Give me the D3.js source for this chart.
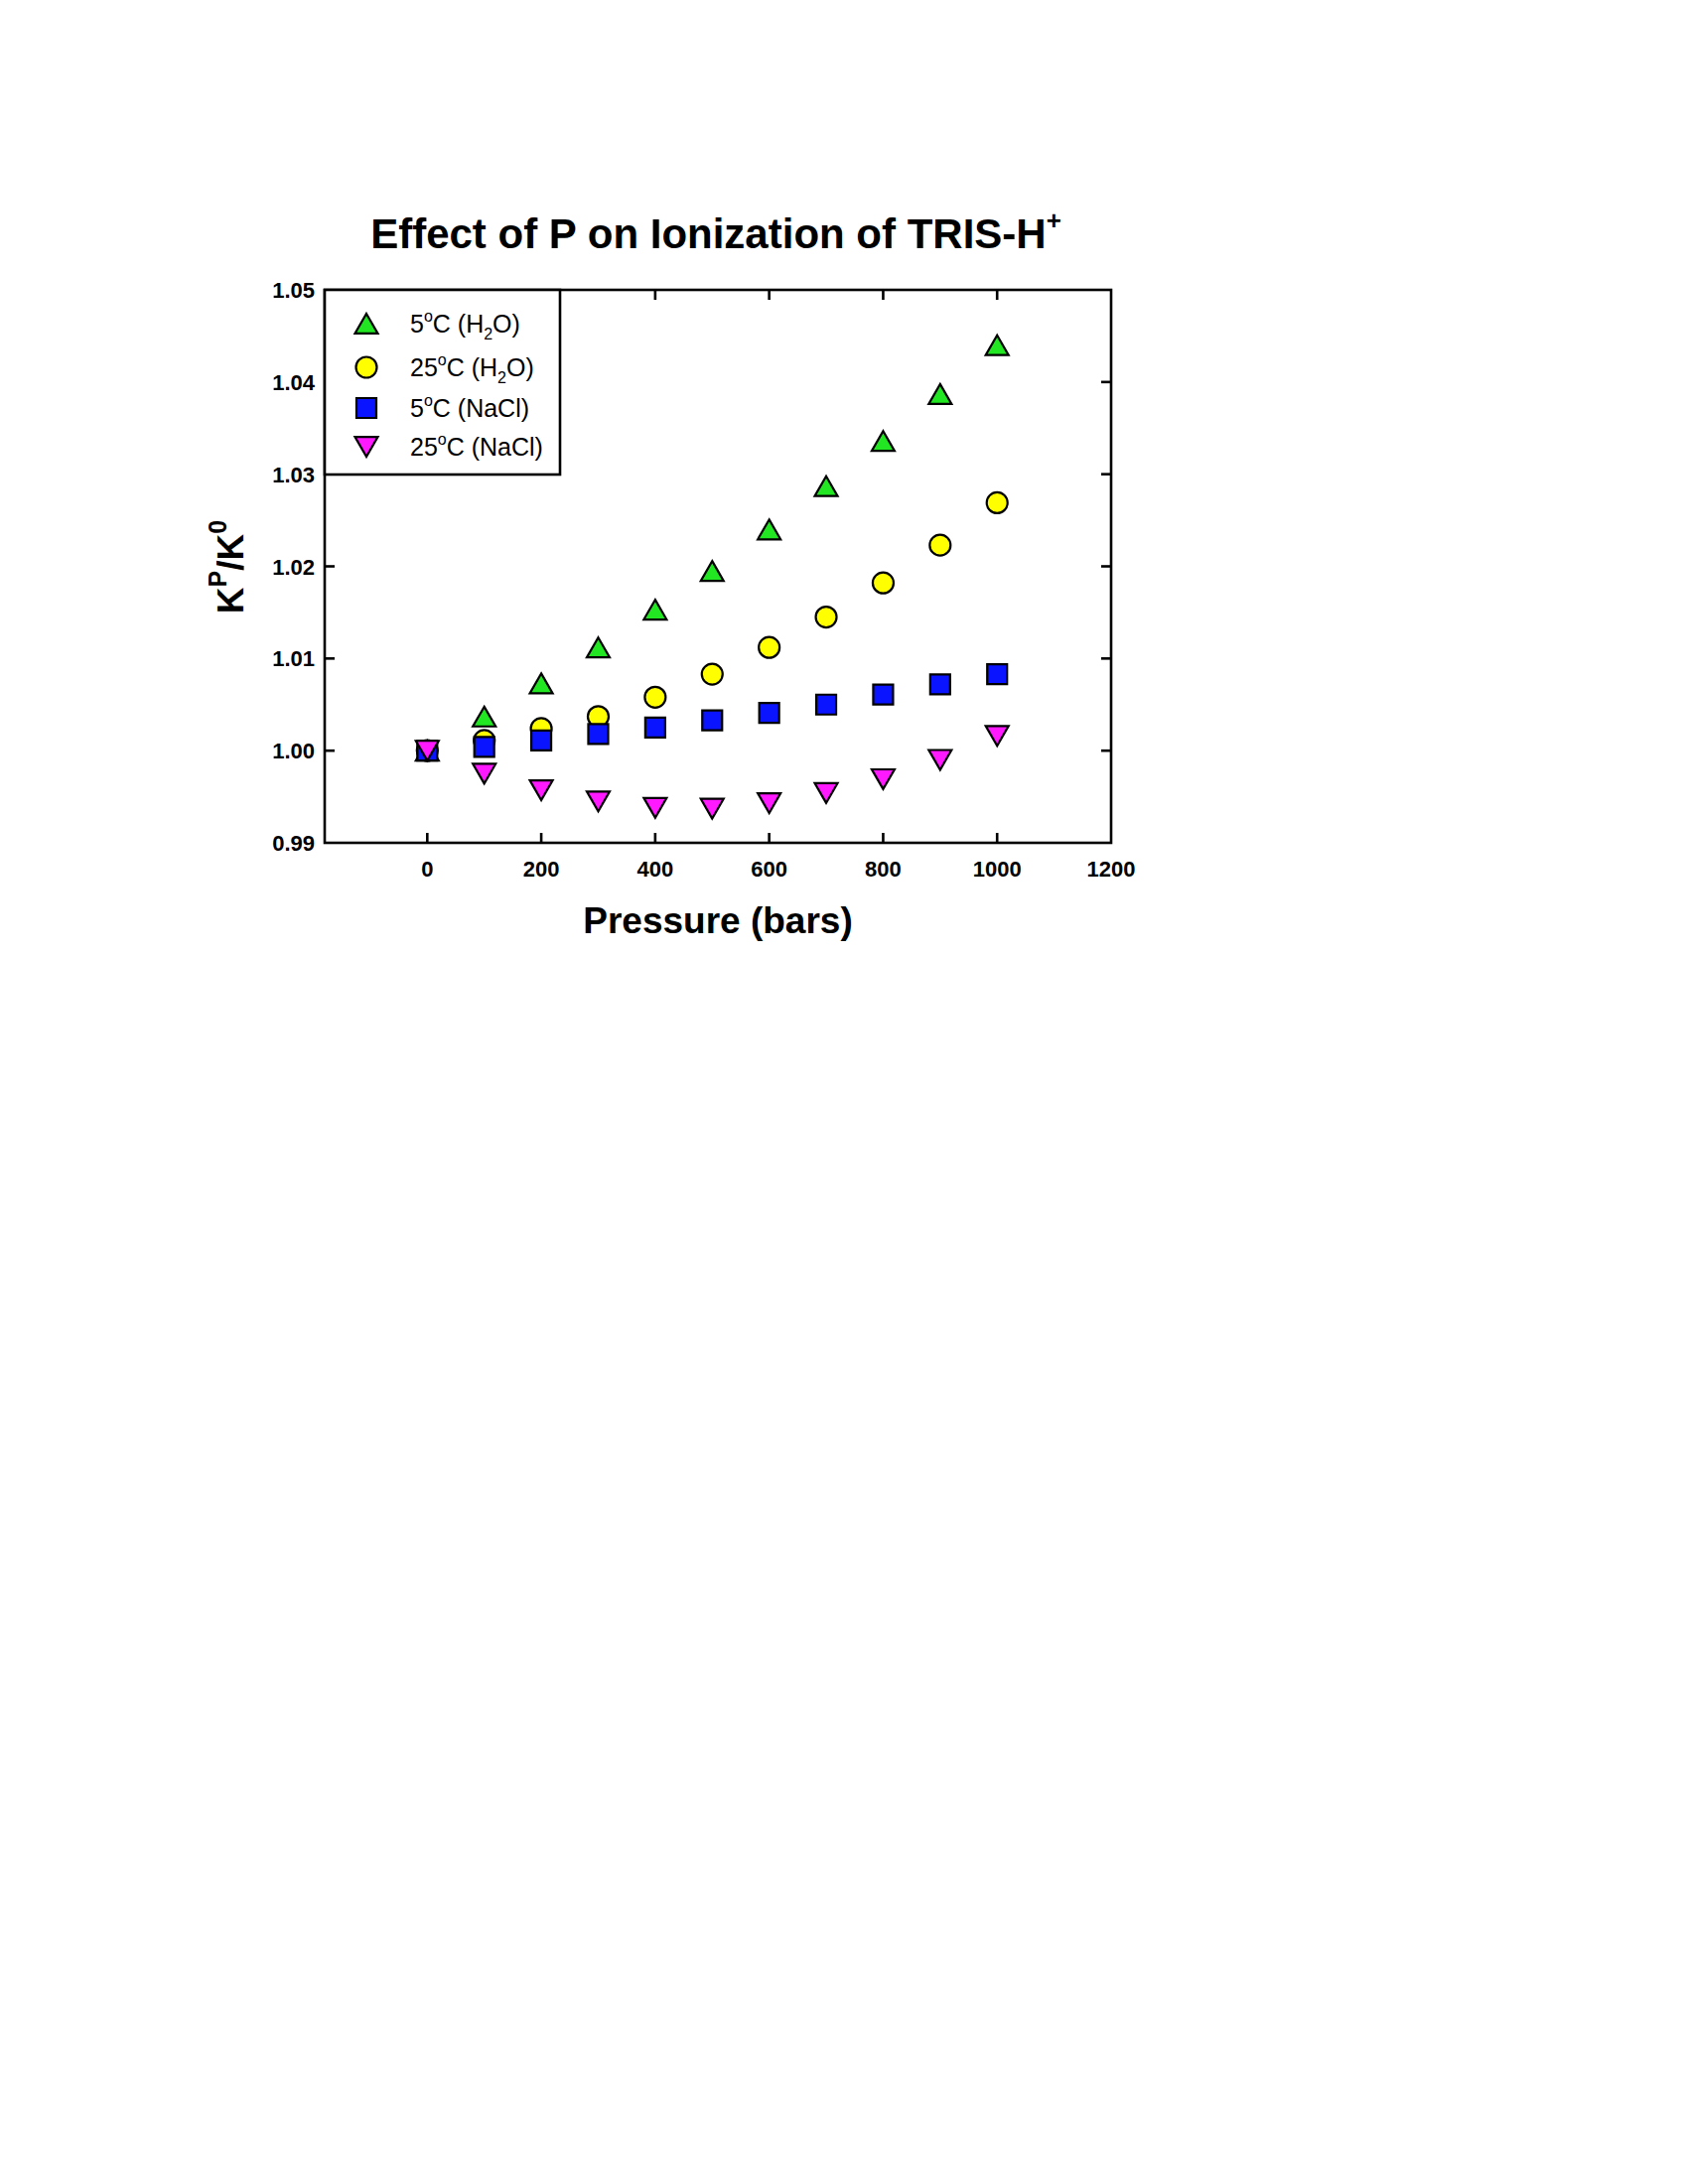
<!DOCTYPE html>
<html>
<head>
<meta charset="utf-8">
<script src="https://cdn.jsdelivr.net/npm/d3@7"></script>
<style>
  body { margin: 0; background: #fff; }
  text { font-family: "Liberation Sans", Arial, sans-serif; fill: #000; }
</style>
</head>
<body>
<div id="chart-area"></div>
<script>
// data
var pressure = [0, 100, 200, 300, 400, 500, 600, 700, 800, 900, 1000];
var h2o5 = [1.0000, 1.0037, 1.0073, 1.0112, 1.0153, 1.0195, 1.0240, 1.0287, 1.0336, 1.0387, 1.0440];
var h2o25 = [1.0000, 1.0011, 1.0024, 1.0037, 1.0058, 1.0083, 1.0112, 1.0145, 1.0182, 1.0223, 1.0269];
var nacl5 = [1.0000, 1.0004, 1.0011, 1.0018, 1.0025, 1.0033, 1.0041, 1.0050, 1.0061, 1.0072, 1.0083];
var nacl25 = [1.0000, 0.9975, 0.9957, 0.9945, 0.9938, 0.9937, 0.9943, 0.9954, 0.9969, 0.9990, 1.0016];
var xTicks = [0, 200, 400, 600, 800, 1000, 1200];
var yTicks = [0.99, 1.00, 1.01, 1.02, 1.03, 1.04, 1.05];

var series = [
  {temp: "5", solv: "H2O", values: h2o5, shape: "up", color: "#22e622"},
  {temp: "25", solv: "H2O", values: h2o25, shape: "circle", color: "#ffff00"},
  {temp: "5", solv: "NaCl", values: nacl5, shape: "square", color: "#0a14ff"},
  {temp: "25", solv: "NaCl", values: nacl25, shape: "down", color: "#ff19ff"}
];

var margin = {top: 292, left: 327};
var width = 1119 - 327;
var height = 849 - 292;

var svg = d3.select("#chart-area").append("svg")
  .attr("width", 1700)
  .attr("height", 2200)

var g = svg.append("g")
  .attr("transform", "translate(" + margin.left + ", " + margin.top + ")")

var x = d3.scaleLinear().domain([-180, 1200]).range([0, width])
var y = d3.scaleLinear().domain([0.99, 1.05]).range([height, 0])

// frame
g.append("rect")
  .attr("width", width).attr("height", height)
  .attr("fill", "none").attr("stroke", "#000").attr("stroke-width", 2.6)

// inward ticks on all four sides
var tickLen = 10;
var xt = xTicks.filter(d => d < 1200);
g.selectAll(".xtb").data(xt).enter().append("line")
  .attr("x1", d => x(d)).attr("x2", d => x(d))
  .attr("y1", height).attr("y2", height - tickLen)
  .attr("stroke", "#000").attr("stroke-width", 2.6)
g.selectAll(".xtt").data(xt).enter().append("line")
  .attr("x1", d => x(d)).attr("x2", d => x(d))
  .attr("y1", 0).attr("y2", tickLen)
  .attr("stroke", "#000").attr("stroke-width", 2.6)
var yt = yTicks.slice(1, -1);
g.selectAll(".ytl").data(yt).enter().append("line")
  .attr("x1", 0).attr("x2", tickLen)
  .attr("y1", d => y(d)).attr("y2", d => y(d))
  .attr("stroke", "#000").attr("stroke-width", 2.6)
g.selectAll(".ytr").data(yt).enter().append("line")
  .attr("x1", width).attr("x2", width - tickLen)
  .attr("y1", d => y(d)).attr("y2", d => y(d))
  .attr("stroke", "#000").attr("stroke-width", 2.6)

// tick labels
g.selectAll(".xl").data(xTicks).enter().append("text")
  .attr("x", d => x(d))
  .attr("y", height + 34)
  .attr("text-anchor", "middle")
  .attr("font-size", "22px")
  .attr("font-weight", "bold")
  .text(d => d)
g.selectAll(".yl").data(yTicks).enter().append("text")
  .attr("x", -10)
  .attr("y", d => y(d) + 8)
  .attr("text-anchor", "end")
  .attr("font-size", "22px")
  .attr("font-weight", "bold")
  .text(d => d3.format(".2f")(d))

// markers
function symbolFor(shape) {
  if (shape == "circle") return d3.symbol(d3.symbolCircle, 346)
  if (shape == "square") return d3.symbol(d3.symbolSquare, 400)
  return d3.symbol(d3.symbolTriangle, 229)
}
function shapeTransform(shape, cx, cy) {
  if (shape == "up") return "translate(" + cx + "," + (cy + 3.3) + ")"
  if (shape == "down") return "translate(" + cx + "," + (cy - 3.3) + ") rotate(180)"
  return "translate(" + cx + "," + cy + ")"
}

series.forEach(s => {
  g.selectAll(null).data(s.values).enter().append("path")
    .attr("d", symbolFor(s.shape))
    .attr("transform", (d, i) => shapeTransform(s.shape, x(pressure[i]), y(d)))
    .attr("fill", s.color)
    .attr("stroke", "#000")
    .attr("stroke-width", 2.2)
})

// legend
var legend = g.append("g")
legend.append("rect")
  .attr("x", 0).attr("y", 0)
  .attr("width", 564 - 327).attr("height", 478 - 292)
  .attr("fill", "#fff").attr("stroke", "#000").attr("stroke-width", 2.6)

var legY = [34, 78, 119, 158];
series.forEach((s, i) => {
  legend.append("path")
    .attr("d", symbolFor(s.shape))
    .attr("transform", shapeTransform(s.shape, 42, legY[i]))
    .attr("fill", s.color)
    .attr("stroke", "#000")
    .attr("stroke-width", 2.2)
  var t = legend.append("text")
    .attr("x", 86)
    .attr("y", legY[i] + 9)
    .attr("font-size", "25px")
    .attr("font-weight", "500")
  t.append("tspan").text(s.temp)
  t.append("tspan").attr("font-size", "16px").attr("dy", -11).text("o")
  if (s.solv == "H2O") {
    t.append("tspan").attr("dy", 11).text("C (H")
    t.append("tspan").attr("font-size", "16px").attr("dy", 7).text("2")
    t.append("tspan").attr("dy", -7).text("O)")
  } else {
    t.append("tspan").attr("dy", 11).text("C (NaCl)")
  }
})

// title
var title = svg.append("text")
  .attr("x", 721)
  .attr("y", 250)
  .attr("text-anchor", "middle")
  .attr("font-size", "42px")
  .attr("font-weight", "bold")
title.append("tspan").text("Effect of P on Ionization of TRIS-H")
title.append("tspan").attr("font-size", "26px").attr("dy", -19).text("+")

// X Label
svg.append("text")
  .attr("x", 723)
  .attr("y", 940)
  .attr("font-size", "37px")
  .attr("font-weight", "bold")
  .attr("text-anchor", "middle")
  .text("Pressure (bars)")

// Y Label
var yl = svg.append("text")
  .attr("transform", "translate(245, 571) rotate(-90)")
  .attr("font-size", "37px")
  .attr("font-weight", "bold")
  .attr("text-anchor", "middle")
yl.append("tspan").text("K")
yl.append("tspan").attr("font-size", "25px").attr("dy", -17).text("P")
yl.append("tspan").attr("dy", 17).text("/K")
yl.append("tspan").attr("font-size", "25px").attr("dy", -17).text("0")
</script>
</body>
</html>
